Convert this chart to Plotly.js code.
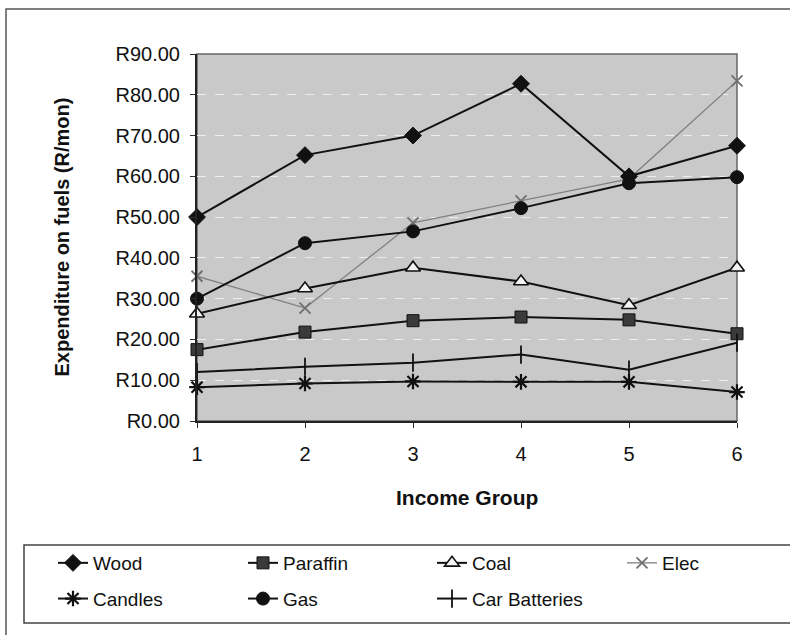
<!DOCTYPE html>
<html>
<head>
<meta charset="utf-8">
<script src="https://cdn.plot.ly/plotly-3.0.1.min.js"></script>
<style>html,body{margin:0;padding:0;background:#fff;}#chart{width:790px;height:635px;}</style>
</head>
<body>
<div id="chart"></div>
<script>
// ---- data ----
var incomeGroups = [1, 2, 3, 4, 5, 6];
var wood         = [50.0, 65.2, 70.0, 82.7, 60.0, 67.5];
var paraffin     = [17.5, 21.8, 24.6, 25.5, 24.8, 21.4];
var coal         = [26.3, 32.5, 37.6, 34.2, 28.4, 37.6];
var elec         = [35.5, 27.7, 48.6, 54.0, 59.4, 83.4];
var candles      = [8.3, 9.2, 9.7, 9.6, 9.6, 7.1];
var gas          = [30.0, 43.6, 46.5, 52.2, 58.3, 59.8];
var carBatteries = [12.0, 13.3, 14.3, 16.3, 12.6, 19.2];
var seriesNames  = ['Wood', 'Paraffin', 'Coal', 'Elec', 'Candles', 'Gas', 'Car Batteries'];
var yTickVals    = [0, 10, 20, 30, 40, 50, 60, 70, 80, 90];
var yTickText    = yTickVals.map(function (v) { return 'R' + v.toFixed(2); });
var xTickText    = incomeGroups.map(String);
var xTitle       = 'Income Group';
var yTitle       = 'Expenditure on fuels (R/mon)';

var FONT = 'Liberation Sans, Arial, Helvetica, sans-serif';

function tr(name, y, symbol, opts, legendId, rank) {
  return {
    type: 'scatter', mode: 'lines+markers', name: name,
    x: incomeGroups, y: y, cliponaxis: false,
    legend: legendId, legendgroup: name, legendrank: rank,
    line: {color: opts.lineColor || '#111', width: opts.lineWidth || 2},
    marker: {symbol: symbol, size: opts.size || 12, color: opts.fill || '#111',
             line: {color: opts.edge || '#111', width: opts.edgeWidth || 1}}
  };
}

// legend columns: 1 = Wood/Candles, 2 = Paraffin/Gas, 3 = Coal/Car Batteries, 4 = Elec
var data = [
  tr(seriesNames[3], elec, 'x-thin', {lineColor: '#808080', lineWidth: 1.3, size: 11, edge: '#707070', edgeWidth: 1.8}, 'legend4', 1),
  tr(seriesNames[0], wood, 'diamond', {size: 13}, 'legend', 1),
  tr(seriesNames[1], paraffin, 'square', {fill: '#3a3a3a', size: 12}, 'legend2', 1),
  tr(seriesNames[2], coal, 'triangle-up', {fill: '#f4f4f4', edgeWidth: 1.6, size: 13}, 'legend3', 1),
  tr(seriesNames[4], candles, 'asterisk', {edgeWidth: 2.2, size: 13}, 'legend', 2),
  tr(seriesNames[5], gas, 'circle', {size: 13}, 'legend2', 2),
  tr(seriesNames[6], carBatteries, 'line-ns', {edgeWidth: 1.8, size: 13}, 'legend3', 2)
];

var W = 790, H = 635, L = 197, R = 737, T = 54, B = 421;
function px(x) { return (x - L) / (R - L); }
function py(y) { return (B - y) / (B - T); }
function cx(x) { return x / W; }
function cy(y) { return 1 - y / H; }

var legendCommon = {
  orientation: 'v', xanchor: 'left', yanchor: 'top',
  xref: 'container', yref: 'container',
  bgcolor: 'rgba(0,0,0,0)', borderwidth: 0,
  font: {family: FONT, size: 19, color: '#111'},
  tracegroupgap: 8, itemclick: false, y: cy(544)
};

var layout = {
  width: W, height: H,
  margin: {l: L, r: W - R, t: T, b: H - B, pad: 0, autoexpand: false},
  paper_bgcolor: '#ffffff',
  plot_bgcolor: '#c9c9c9',
  font: {family: FONT, color: '#111'},
  showlegend: true,
  xaxis: {
    range: [1, 6], tickvals: incomeGroups, ticktext: xTickText,
    showgrid: false, zeroline: false,
    showline: true, linecolor: '#222', linewidth: 2,
    ticks: 'outside', ticklen: 5, tickcolor: '#333', tickwidth: 1,
    tickfont: {family: FONT, size: 20, color: '#111'},
    ticklabelstandoff: 9,
    automargin: false
  },
  yaxis: {
    range: [0, 90], tickvals: yTickVals, ticktext: yTickText,
    showgrid: true, gridcolor: '#eeeeee', gridwidth: 1, griddash: 'dash',
    zeroline: false,
    showline: true, linecolor: '#222', linewidth: 2,
    ticks: 'outside', ticklen: 5, tickcolor: '#333', tickwidth: 1,
    tickfont: {family: FONT, size: 20, color: '#111'},
    ticklabelstandoff: 6,
    automargin: false
  },
  annotations: [
    {text: '<b>' + xTitle + '</b>', xref: 'paper', yref: 'paper', x: 0.5, y: py(497),
     xanchor: 'center', yanchor: 'middle', showarrow: false,
     font: {family: FONT, size: 21, color: '#111'}},
    {text: '<b>' + yTitle + '</b>', xref: 'paper', yref: 'paper', x: px(61), y: 0.5,
     xanchor: 'center', yanchor: 'middle', showarrow: false, textangle: -90,
     font: {family: FONT, size: 20, color: '#111'}}
  ],
  legend:  Object.assign({}, legendCommon, {x: cx(53)}),
  legend2: Object.assign({}, legendCommon, {x: cx(243)}),
  legend3: Object.assign({}, legendCommon, {x: cx(432)}),
  legend4: Object.assign({}, legendCommon, {x: cx(622)}),
  shapes: [
    {type: 'rect', xref: 'paper', yref: 'paper', x0: 0, x1: 1, y0: 0, y1: 1,
     line: {color: '#666', width: 1.5}, fillcolor: 'rgba(0,0,0,0)', layer: 'below'},
    {type: 'rect', xref: 'paper', yref: 'paper', x0: px(6), x1: px(805), y0: py(650), y1: py(9),
     line: {color: '#555', width: 1.5}, fillcolor: 'rgba(0,0,0,0)'},
    {type: 'rect', xref: 'paper', yref: 'paper', x0: px(24), x1: px(805), y0: py(623), y1: py(545),
     line: {color: '#444', width: 1.5}, fillcolor: 'rgba(0,0,0,0)'}
  ]
};

Plotly.newPlot('chart', data, layout, {displayModeBar: false, staticPlot: true});
</script>
</body>
</html>
